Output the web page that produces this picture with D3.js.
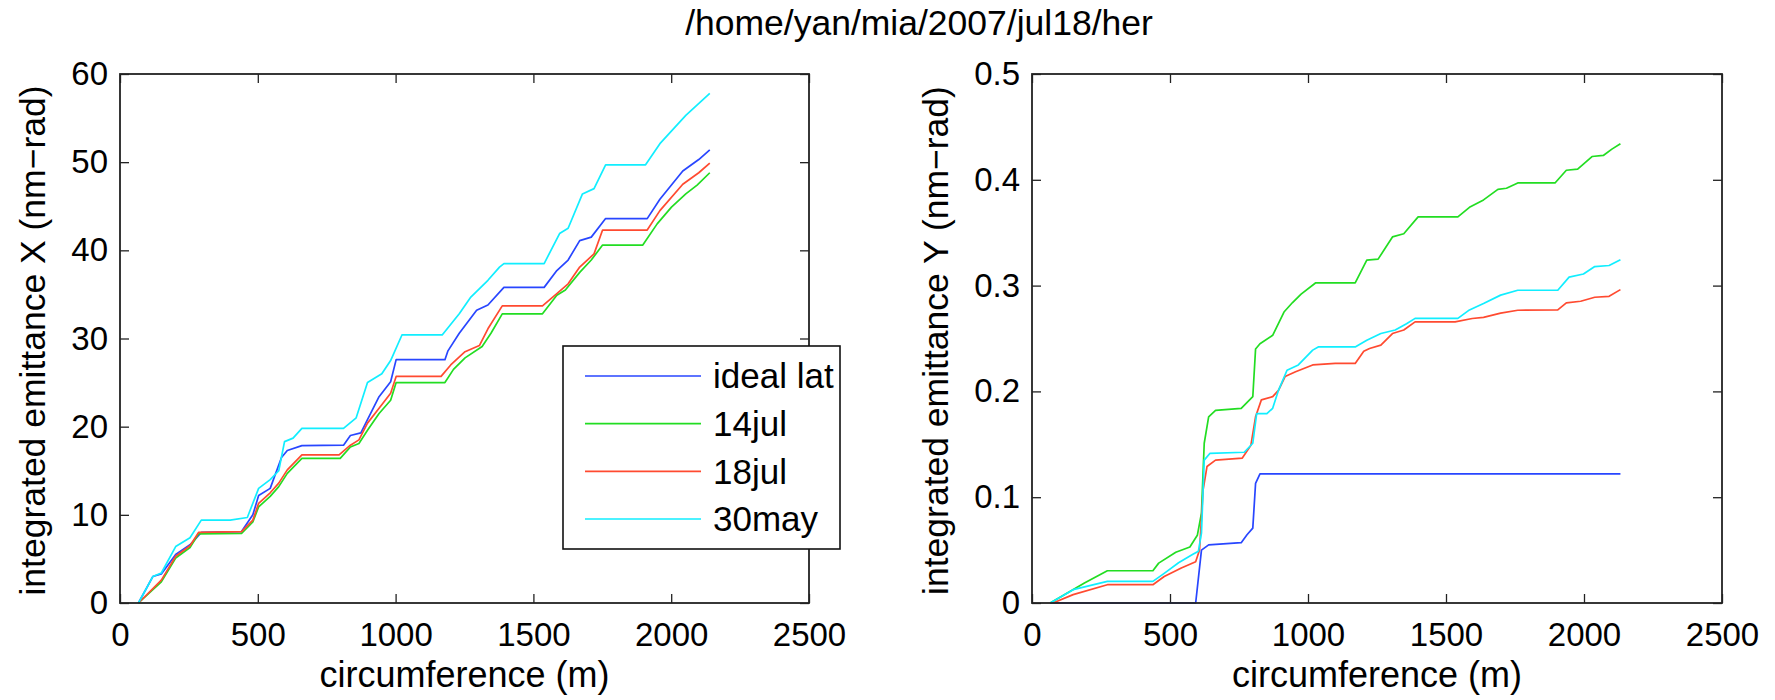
<!DOCTYPE html>
<html><head><meta charset="utf-8">
<script src="https://cdn.jsdelivr.net/npm/d3@7"></script>
<style>
html,body{margin:0;padding:0;background:#fff;}
svg text{font-family:"Liberation Sans",Arial,Helvetica,sans-serif;fill:#000;}
</style></head>
<body><svg id="chart" width="1775" height="700"></svg>
<script>
// ---------- data ----------
const title = "/home/yan/mia/2007/jul18/her";
const seriesNames = ["ideal lat", "14jul", "18jul", "30may"];
const seriesColors = ["#2846ff", "#22dd22", "#ff4a30", "#11eeff"];
const xTicks = [0, 500, 1000, 1500, 2000, 2500];
const yTicksLeft = [0, 10, 20, 30, 40, 50, 60];
const yTicksRight = [0, 0.1, 0.2, 0.3, 0.4, 0.5];
const xLabel = "circumference (m)";
const yLabelLeft = "integrated emittance X (nm\u2212rad)";
const yLabelRight = "integrated emittance Y (nm\u2212rad)";

// left panel (X emittance): [circumference m, value]
const leftIdeal = [[67,0],[119,3.0],[150,3.3],[202,5.5],[254,6.6],[295,8.0],[441,8.1],[482,10.0],[503,12.2],[545,13.0],[586,16.5],[607,17.3],[660,17.85],[811,17.9],[836,19.0],[874,19.3],[898,20.8],[940,23.4],[982,25.1],[1002,27.6],[1179,27.6],[1190,28.6],[1231,30.6],[1294,33.2],[1335,33.8],[1393,35.8],[1539,35.8],[1585,37.7],[1626,38.9],[1668,41.1],[1710,41.5],[1762,43.6],[1913,43.6],[1959,45.8],[2042,49.0],[2100,50.3],[2140,51.4]];
const left14jul = [[67,0],[150,2.4],[202,5.1],[254,6.3],[285,7.85],[441,7.9],[482,9.2],[503,10.9],[545,12.1],[576,13.2],[607,14.7],[660,16.4],[799,16.4],[836,17.7],[867,18.1],[898,19.6],[940,21.5],[982,23.0],[1002,25.0],[1179,25.0],[1210,26.5],[1252,27.8],[1314,29.1],[1346,30.6],[1387,32.8],[1533,32.8],[1585,34.9],[1616,35.5],[1668,37.5],[1710,38.9],[1751,40.6],[1897,40.6],[1949,43.0],[2001,44.9],[2053,46.4],[2094,47.4],[2140,48.8]];
const left18jul = [[67,0],[150,2.6],[202,5.3],[254,6.5],[285,8.0],[441,8.1],[482,9.4],[503,11.3],[545,12.5],[576,13.6],[607,15.1],[660,16.8],[795,16.8],[836,17.9],[867,18.5],[898,20.4],[940,22.1],[982,23.8],[1002,25.7],[1165,25.7],[1200,27.0],[1252,28.5],[1304,29.2],[1335,31.1],[1387,33.7],[1533,33.7],[1585,35.1],[1626,36.2],[1668,38.1],[1720,39.6],[1751,42.3],[1913,42.3],[1959,44.5],[2042,47.5],[2100,48.8],[2140,49.9]];
const left30may = [[67,0],[119,3.0],[150,3.4],[202,6.4],[254,7.4],[295,9.4],[400,9.4],[462,9.7],[503,13.0],[545,14.0],[576,15.0],[597,18.3],[628,18.7],[660,19.8],[811,19.8],[857,21.0],[898,25.0],[950,26.0],[982,27.5],[1023,30.4],[1169,30.4],[1231,32.8],[1273,34.7],[1335,36.6],[1377,38.1],[1393,38.5],[1539,38.5],[1595,41.9],[1626,42.5],[1678,46.4],[1720,47.0],[1762,49.7],[1907,49.7],[1959,52.1],[2053,55.3],[2140,57.8]];

// right panel (Y emittance)
const rightIdeal = [[66,0],[593,0],[614,0.050],[640,0.055],[758,0.057],[779,0.0645],[800,0.0708],[810,0.113],[826,0.122],[2132,0.122]];
const right14jul = [[66,0],[128,0.0094],[190,0.019],[273,0.0305],[438,0.0305],[459,0.0377],[521,0.048],[572,0.053],[599,0.064],[614,0.085],[624,0.151],[640,0.176],[665,0.182],[758,0.184],[800,0.195],[810,0.24],[826,0.245],[872,0.253],[913,0.275],[944,0.284],[975,0.292],[1027,0.3025],[1171,0.3025],[1213,0.324],[1254,0.325],[1306,0.346],[1347,0.349],[1399,0.365],[1543,0.365],[1585,0.374],[1636,0.381],[1688,0.391],[1719,0.392],[1760,0.397],[1895,0.397],[1936,0.409],[1977,0.410],[2029,0.422],[2070,0.423],[2101,0.429],[2132,0.434]];
const right18jul = [[76,0],[149,0.0079],[273,0.0173],[438,0.0173],[479,0.025],[541,0.033],[593,0.039],[607,0.050],[620,0.107],[634,0.129],[665,0.135],[762,0.137],[793,0.149],[810,0.176],[831,0.192],[872,0.195],[893,0.201],[917,0.214],[955,0.2185],[1017,0.225],[1099,0.2264],[1171,0.2264],[1202,0.238],[1223,0.2406],[1264,0.2437],[1306,0.2547],[1347,0.258],[1388,0.2657],[1533,0.2657],[1595,0.2689],[1636,0.27],[1698,0.274],[1760,0.2767],[1905,0.277],[1936,0.2836],[1988,0.2852],[2039,0.289],[2091,0.2899],[2132,0.2962]];
const right30may = [[66,0],[149,0.0126],[273,0.0204],[438,0.0204],[479,0.028],[531,0.038],[583,0.046],[603,0.049],[614,0.066],[624,0.135],[645,0.1415],[769,0.1425],[800,0.151],[814,0.179],[851,0.179],[872,0.184],[893,0.201],[924,0.22],[965,0.225],[1017,0.239],[1037,0.242],[1171,0.242],[1213,0.2484],[1264,0.2547],[1316,0.258],[1357,0.264],[1388,0.269],[1543,0.269],[1585,0.277],[1636,0.283],[1698,0.291],[1760,0.2956],[1905,0.2956],[1946,0.308],[1998,0.311],[2039,0.318],[2091,0.319],[2132,0.3245]];

// ---------- drawing ----------
const svg = d3.select("#chart");
svg.append("rect").attr("width",1775).attr("height",700).attr("fill","#fff");

svg.append("text").attr("x",919).attr("y",35).attr("text-anchor","middle")
  .style("font-size","35.5px").text(title);

const plotTop = 74, plotBottom = 603;
const TICK = 9;
const frameColor = "#222";

function panel(x0, x1, yMax, yTicks, yLabel, yLabelX, series, legend) {
  const x = d3.scaleLinear().domain([0, 2500]).range([x0, x1]);
  const y = d3.scaleLinear().domain([0, yMax]).range([plotBottom, plotTop]);
  const g = svg.append("g");
  const fmt = d => String(d);

  const styleAxis = (sel) => {
    sel.select(".domain").remove();
    sel.selectAll(".tick line").attr("stroke", frameColor).attr("stroke-width", 1.3);
    sel.selectAll("text").style("font-size","33px").attr("fill","#000");
  };
  g.append("g").attr("transform",`translate(0,${plotBottom})`)
    .call(d3.axisBottom(x).tickValues(xTicks).tickFormat(fmt).tickSizeInner(-TICK).tickSizeOuter(0).tickPadding(20))
    .call(styleAxis);
  g.append("g").attr("transform",`translate(0,${plotTop})`)
    .call(d3.axisTop(x).tickValues(xTicks).tickFormat("").tickSizeInner(-TICK).tickSizeOuter(0))
    .call(styleAxis);
  g.append("g").attr("transform",`translate(${x0},0)`)
    .call(d3.axisLeft(y).tickValues(yTicks).tickFormat(fmt).tickSizeInner(-TICK).tickSizeOuter(0).tickPadding(12))
    .call(styleAxis);
  g.append("g").attr("transform",`translate(${x1},0)`)
    .call(d3.axisRight(y).tickValues(yTicks).tickFormat("").tickSizeInner(-TICK).tickSizeOuter(0))
    .call(styleAxis);

  const line = d3.line().x(d => x(d[0])).y(d => y(d[1]));
  series.forEach((s, i) => {
    g.append("path").datum(s).attr("d", line).attr("fill","none")
      .attr("stroke", seriesColors[i]).attr("stroke-width", 1.7).attr("stroke-linejoin","round");
  });

  g.append("rect").attr("x", x0).attr("y", plotTop).attr("width", x1 - x0).attr("height", plotBottom - plotTop)
    .attr("fill","none").attr("stroke", frameColor).attr("stroke-width", 1.8);

  g.append("text").attr("x", (x0 + x1) / 2).attr("y", 687).attr("text-anchor","middle")
    .style("font-size","36px").text(xLabel);
  g.append("text").attr("transform", `translate(${yLabelX},${(plotTop + plotBottom) / 2 + 2}) rotate(-90)`)
    .attr("text-anchor","middle").style("font-size","35.5px").text(yLabel);

  if (legend) {
    const lg = g.append("g");
    lg.append("rect").attr("x",563).attr("y",346).attr("width",277).attr("height",203)
      .attr("fill","#fff").attr("stroke","#111").attr("stroke-width",1.6);
    const rowY = d3.scalePoint().domain(seriesNames).range([376, 519]);
    seriesNames.forEach((n, i) => {
      lg.append("line").attr("x1",585).attr("x2",701).attr("y1",rowY(n)).attr("y2",rowY(n))
        .attr("stroke", seriesColors[i]).attr("stroke-width",1.7);
      lg.append("text").attr("x",713).attr("y",rowY(n)).attr("dy","0.35em")
        .style("font-size","35px").text(n);
    });
  }
}

panel(120, 809, 60, yTicksLeft, yLabelLeft, 45, [leftIdeal, left14jul, left18jul, left30may], true);
panel(1032, 1722, 0.5, yTicksRight, yLabelRight, 948, [rightIdeal, right14jul, right18jul, right30may], false);
</script></body></html>
